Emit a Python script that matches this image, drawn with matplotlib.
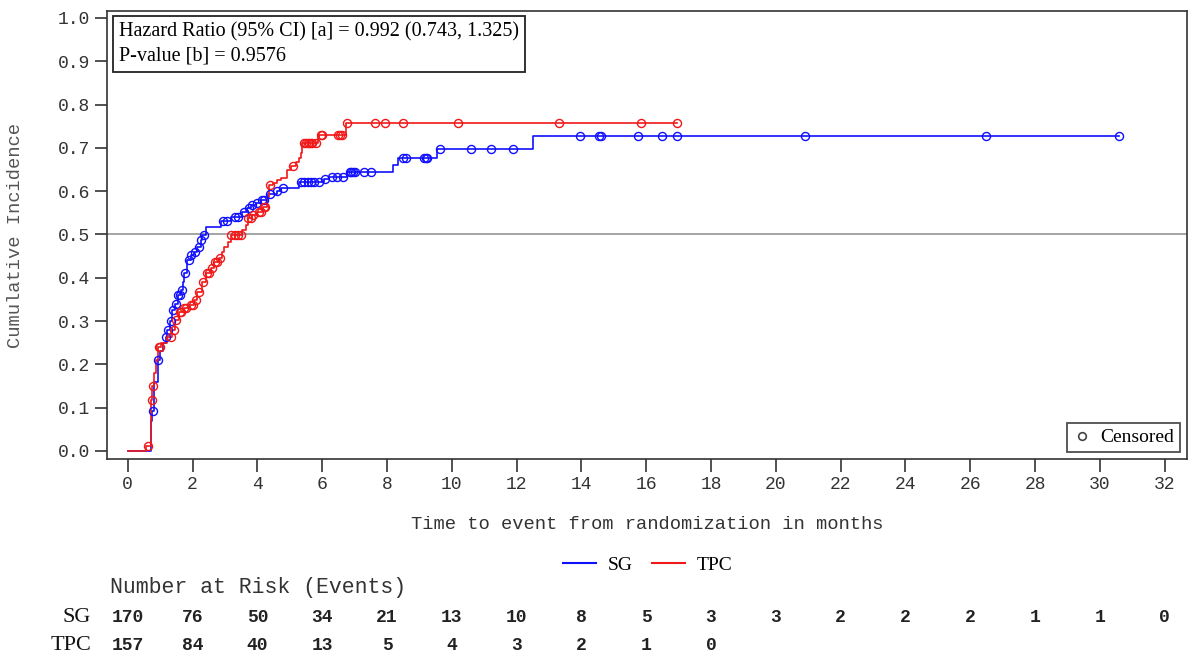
import numpy as np
import matplotlib
matplotlib.use("Agg")
import matplotlib.pyplot as plt
from matplotlib.lines import Line2D
from matplotlib import transforms

# cumulative incidence steps (time in months, value after step)
sg_t = [0, 0.72, 0.76, 0.81, 0.92, 1.0, 1.1, 1.17, 1.22, 1.3, 1.38, 1.45, 1.55, 1.64, 1.70,
        1.74, 1.84, 1.94, 2.05, 2.15, 2.25, 2.3, 2.41, 2.87, 3.18, 3.54, 3.69, 3.8, 3.95, 4.11,
        4.33, 4.6, 4.72, 5.3, 6.05, 6.2, 6.78, 8.18, 8.33, 9.54, 12.5]
sg_y = [0, 0.07, 0.093, 0.16, 0.21, 0.23, 0.25, 0.264, 0.279, 0.30, 0.326, 0.34, 0.36, 0.372, 0.39,
        0.41, 0.441, 0.453, 0.46, 0.472, 0.487, 0.499, 0.518, 0.532, 0.541, 0.553, 0.56, 0.568, 0.572, 0.58,
        0.593, 0.600, 0.608, 0.62, 0.627, 0.632, 0.645, 0.66, 0.677, 0.698, 0.728]
sg_end = 30.6
sg_cens = [0.77, 0.93, 1.18, 1.25, 1.32, 1.4, 1.5, 1.56, 1.62, 1.68, 1.78, 1.88, 1.96, 2.08, 2.2,
           2.27, 2.35, 2.95, 3.05, 3.3, 3.4, 3.6, 3.75, 3.85, 4.0, 4.15, 4.2, 4.4, 4.62, 4.8,
           5.35, 5.45, 5.55, 5.65, 5.75, 5.9, 6.1, 6.3, 6.45, 6.65, 6.85, 6.9, 6.95, 7.0, 7.3,
           7.5, 8.5, 8.6, 9.15, 9.2, 9.25, 9.65, 10.6, 11.2, 11.9, 13.95, 14.55, 14.6, 15.75,
           16.5, 16.95, 20.9, 26.5, 30.6]

tpc_t = [0, 0.57, 0.71, 0.76, 0.81, 0.86, 0.92, 1.02, 1.22, 1.38, 1.45, 1.59, 1.74, 1.89, 2.05,
         2.15, 2.3, 2.4, 2.56, 2.67, 2.82, 2.92, 2.97, 3.08, 3.18, 3.54, 3.64, 3.7, 3.85, 4.0,
         4.16, 4.31, 4.36, 4.47, 4.62, 4.72, 4.93, 5.03, 5.19, 5.29, 5.34, 5.39, 5.86, 5.91, 6.73]
tpc_y = [0, 0.012, 0.118, 0.15, 0.18, 0.21, 0.24, 0.25, 0.264, 0.279, 0.302, 0.322, 0.33, 0.337, 0.349,
         0.368, 0.391, 0.41, 0.422, 0.437, 0.445, 0.46, 0.472, 0.483, 0.499, 0.51, 0.522, 0.537, 0.545, 0.553,
         0.564, 0.587, 0.614, 0.618, 0.626, 0.63, 0.649, 0.657, 0.668, 0.677, 0.687, 0.711, 0.722, 0.73, 0.758]
tpc_end = 16.96
tpc_cens = [0.62, 0.74, 0.78, 0.95, 1.0, 1.35, 1.42, 1.48, 1.6, 1.65, 1.75, 1.8, 1.95, 2.0, 2.1,
            2.2, 2.33, 2.45, 2.5, 2.6, 2.7, 2.75, 2.85, 3.2, 3.3, 3.4, 3.5, 3.72, 3.8, 3.88,
            4.05, 4.1, 4.2, 4.25, 4.4, 5.1, 5.45, 5.5, 5.55, 5.6, 5.65, 5.7, 5.8, 5.95, 6.0,
            6.5, 6.55, 6.62, 6.78, 7.63, 7.94, 8.51, 10.18, 13.32, 15.84, 16.96]

risk_times = list(range(0, 34, 2))
sg_risk = [170, 76, 50, 34, 21, 13, 10, 8, 5, 3, 3, 2, 2, 2, 1, 1, 0]
tpc_risk = [157, 84, 40, 13, 5, 4, 3, 2, 1, 0]

hr_text = "Hazard Ratio (95% CI) [a] = 0.992 (0.743, 1.325)\nP-value [b] = 0.9576"

BLUE = "#1010ff"
RED = "#f01818"
mono = "Liberation Mono"
serif = "Liberation Serif"

fig = plt.figure(figsize=(11.9, 6.57), dpi=100)
ax = fig.add_axes([107 / 1190, 1 - 459 / 657, 1080 / 1190, 448 / 657])


def step_at(t_arr, y_arr, t):
    idx = np.searchsorted(np.array(t_arr), np.array(t), side="right") - 1
    return np.array(y_arr)[idx]


for t, y, end, cens, col in [(sg_t, sg_y, sg_end, sg_cens, BLUE),
                             (tpc_t, tpc_y, tpc_end, tpc_cens, RED)]:
    tt = list(t) + [end]
    yy = list(y) + [y[-1]]
    ax.step(tt, yy, where="post", color=col, lw=1.2, zorder=3)
    ax.plot(cens, step_at(t, y, cens), ls="none", marker="o", ms=5.8,
            mfc="none", mec=col, mew=1.0, zorder=4)

ax.axhline(0.5, color="#8c8c8c", lw=1.1, zorder=1)

ax.set_xlim(-0.64, 32.69)
ax.set_ylim(-0.0185, 1.016)
ax.set_xticks(risk_times)
ax.set_yticks(np.arange(0, 1.01, 0.1))
ax.set_yticklabels([f"{v:.1f}" for v in np.arange(0, 1.01, 0.1)])
ax.tick_params(direction="out", length=9, width=1.1, color="#222222", labelsize=13)
for lab in ax.get_xticklabels() + ax.get_yticklabels():
    lab.set_family(mono)
    lab.set_color("#333333")
for s in ax.spines.values():
    s.set_color("#333333")
    s.set_linewidth(1.2)

ax.set_xlabel("Time to event from randomization in months", family=mono, fontsize=13.5,
              color="#333333", labelpad=16)
ax.set_ylabel("Cumulative Incidence", family=mono, fontsize=13.5, color="#555555", labelpad=24)

ax.text(12 / 1080, 1 - 11 / 448, hr_text, transform=ax.transAxes, va="top", ha="left",
        family=serif, fontsize=14.5, linespacing=1.38, zorder=5,
        bbox=dict(boxstyle="square,pad=0.3", fc="white", ec="#222222", lw=1.3))

cens_handle = Line2D([], [], ls="none", marker="o", ms=5.5, mfc="none", mec="#444444", mew=1.2)
leg = ax.legend([cens_handle], ["Censored"], loc="lower right", prop={"family": serif, "size": 14},
                frameon=True, fancybox=False, edgecolor="#222222", borderaxespad=0.35,
                handlelength=0.9, handletextpad=0.5, borderpad=0.3)
leg.get_frame().set_linewidth(1.3)

line_handles = [Line2D([], [], color=BLUE, lw=1.5), Line2D([], [], color=RED, lw=1.5)]
fig.legend(line_handles, ["SG", "TPC"], loc="center", bbox_to_anchor=(648 / 1190, 1 - 565 / 657),
           ncol=2, frameon=False, prop={"family": serif, "size": 14},
           handlelength=1.7, columnspacing=1.0, handletextpad=0.6)

# number at risk table
trans = transforms.blended_transform_factory(ax.transData, fig.transFigure)
fig.text(110 / 1190, 1 - 588 / 657, "Number at Risk (Events)", family=mono, fontsize=15.5,
         color="#333333", va="center", ha="left")
for lab, vals, ypx in [("SG", sg_risk, 618), ("TPC", tpc_risk, 645)]:
    fig.text(91 / 1190, 1 - ypx / 657, lab, family=serif, fontsize=16, va="center", ha="right",
             color="#111111")
    for x, v in zip(risk_times, vals):
        ax.text(x, 1 - ypx / 657, str(v), transform=trans, family=mono, fontsize=13,
                fontweight="bold", ha="center", va="center", color="#222222")

fig.savefig("out.png", dpi=100)
